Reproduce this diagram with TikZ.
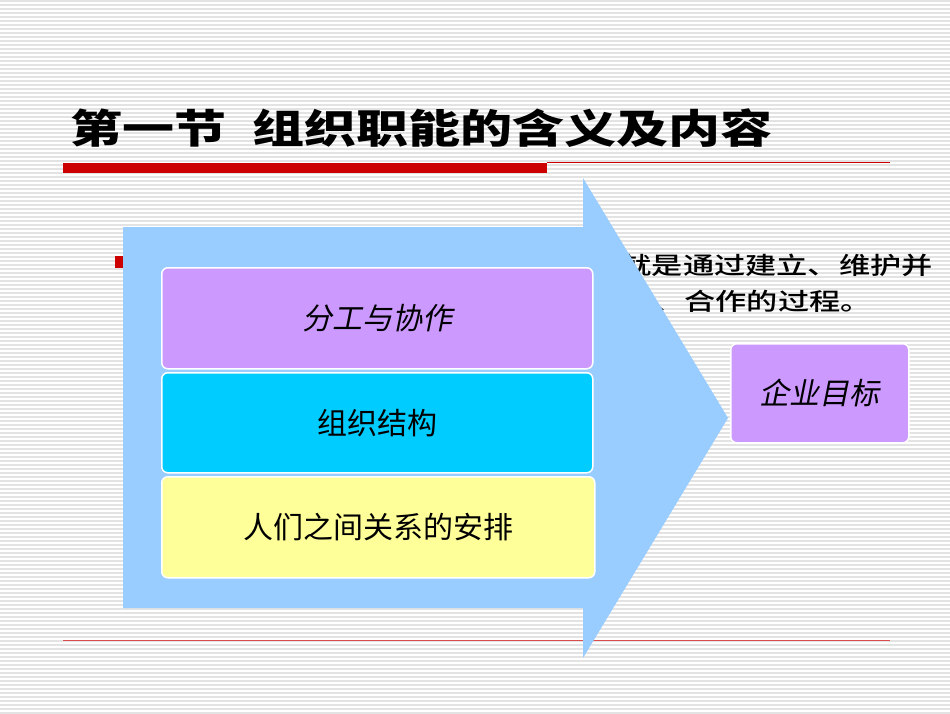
\documentclass[tikz,border=0pt]{standalone}
\usepackage{fontspec}
\newfontfamily\cjk{Noto Sans CJK SC}
\newfontfamily\cjkb{Noto Sans CJK SC Black}
\newfontfamily\cjki[FakeSlant=0.2]{Noto Sans CJK SC}
\newfontfamily\cjkbody{Noto Sans CJK SC Medium}
\definecolor{arrowblue}{HTML}{99CCFF}
\definecolor{lav}{HTML}{CC99FF}
\definecolor{cyanbox}{HTML}{00CCFF}
\definecolor{yel}{HTML}{FFFF99}
\definecolor{redbar}{HTML}{CC0000}
\tikzset{layer/.style={draw=white,line width=1.5pt,rounded corners=6pt,inner sep=0pt,anchor=north west},
 lbl/.style={font=\cjk\fontsize{30}{34}\selectfont}}
\begin{document}
\begin{tikzpicture}[x=1pt,y=-1pt]
\useasboundingbox (0,0) rectangle (950,713);
\fill[white] (0,0) rectangle (950,713);
\foreach \i in {0,4,...,712} \draw[gray!22,line width=1.4pt] (0,\i+1) -- (950,\i+1);
\node[anchor=west,xscale=1.3,inner sep=0pt,font=\cjkb\fontsize{40}{44}\selectfont] (title) at (70,128) {第一节\hspace{0.5em}组织职能的含义及内容};
\fill[redbar] (63,163) rectangle (547,173);
\draw[redbar,line width=0.8pt] (547,162) -- (890,162);
\draw[redbar!70,line width=0.6pt] (63,640) -- (890,640);
\fill[redbar] (115,256) rectangle (125,268);
\node[anchor=east,xscale=1.3,inner sep=0pt,font=\cjkbody\fontsize{24}{28}\selectfont] (l1) at (933,265) {组织职能就是通过建立、维护并};
\node[anchor=east,xscale=1.3,inner sep=0pt,font=\cjkbody\fontsize{24}{28}\selectfont] (l2) at (872,301) {分工、合作的过程。};
\fill[arrowblue] (123,227) -- (583,227) -- (583,178) -- (728,418) -- (583,658) -- (583,608) -- (123,608) -- cycle;
\node[layer,fill=lav,minimum width=431pt,minimum height=101pt] (a) at (161,267) {};
\node[lbl,font=\cjki\fontsize{30}{34}\selectfont] at (a.center) {分工与协作};
\node[layer,fill=cyanbox,minimum width=431pt,minimum height=100pt] (b) at (161,372) {};
\node[lbl] at (b.center) {组织结构};
\node[layer,fill=yel,minimum width=433pt,minimum height=101pt] (c) at (161,476) {};
\node[lbl] at (c.center) {人们之间关系的安排};
\node[layer,fill=lav,minimum width=178pt,minimum height=99pt] (g) at (730,343) {};
\node[lbl,font=\cjki\fontsize{30}{34}\selectfont] at (g.center) {企业目标};
\end{tikzpicture}
\end{document}
